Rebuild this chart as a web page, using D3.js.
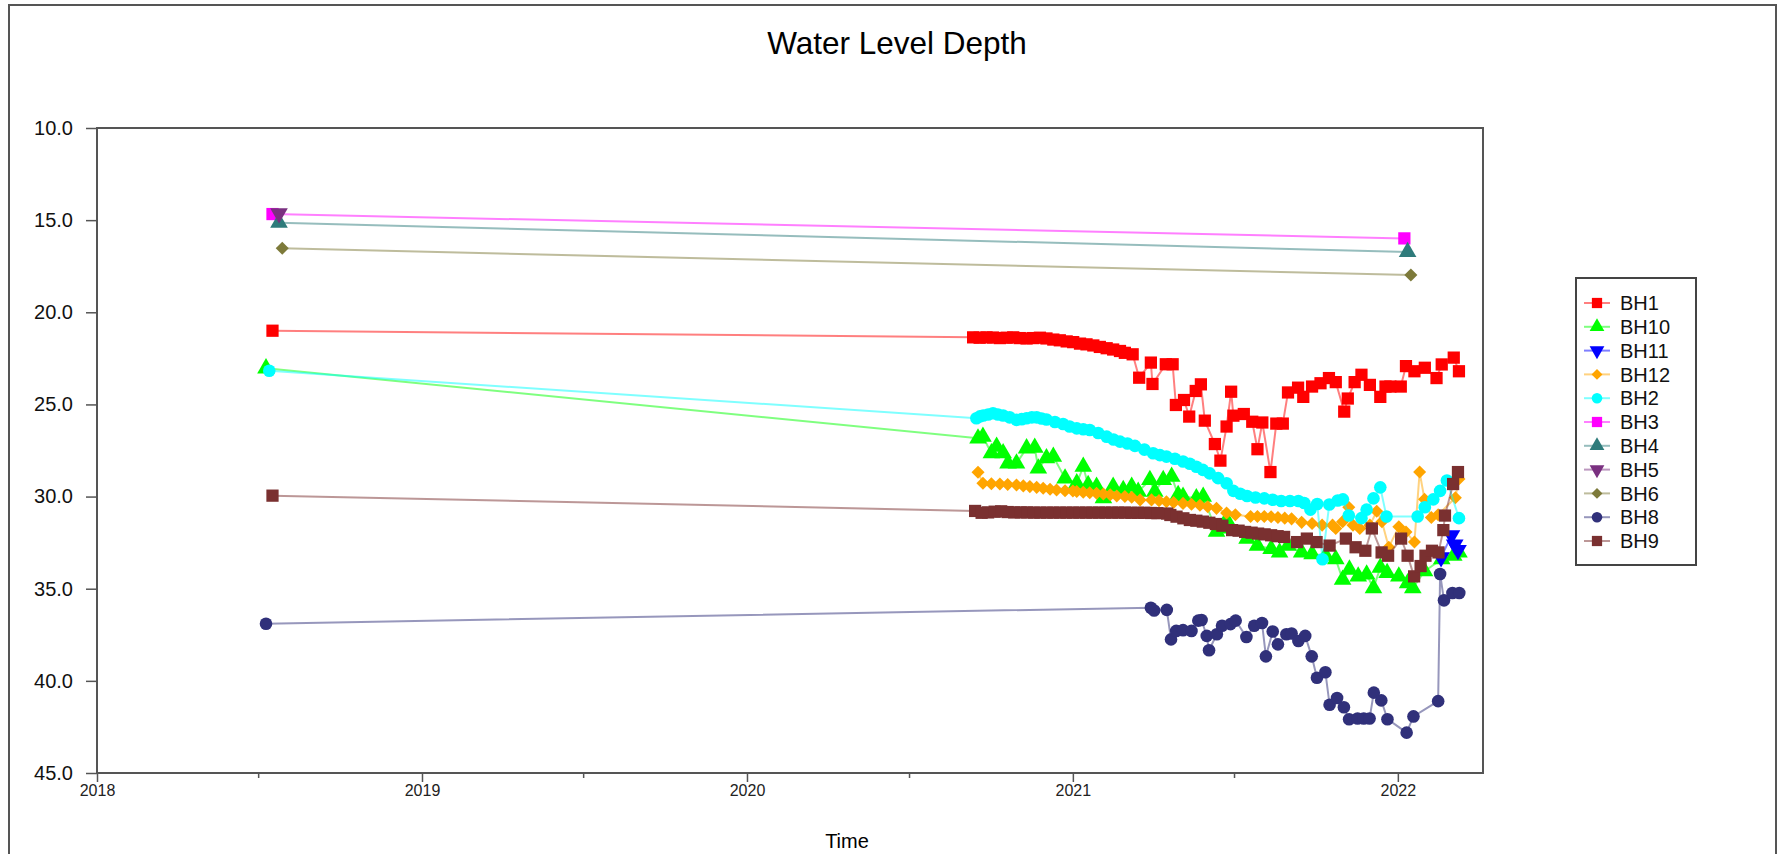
<!DOCTYPE html>
<html>
<head>
<meta charset="utf-8">
<script src="https://cdn.jsdelivr.net/npm/d3@7"></script>
<style>
body { margin: 0; background: #fff; }
svg { display: block; }
text { font-family: "Liberation Sans", Arial, sans-serif; }
</style>
</head>
<body>
<svg id="chart" width="1778" height="854"></svg>
<script>
// readings: [decimal year, depth]
var seriesNames = ["BH1", "BH10", "BH11", "BH12", "BH2", "BH3", "BH4", "BH5", "BH6", "BH8", "BH9"];
var seriesColors = ["#ff0000", "#00ff00", "#0000ff", "#ffa500", "#00ffff", "#ff00ff", "#2e7b7b", "#7a3080", "#7d7a3a", "#30307a", "#7a3030"];
var seriesShapes = ["square", "triangle", "triangleDown", "diamond", "circle", "square", "triangle", "triangleDown", "diamond", "circle", "square"];
var yTicks = [10, 15, 20, 25, 30, 35, 40, 45];

var BH1 = [[2018.54,21.0],
  [2020.694,21.36],[2020.714,21.38],[2020.735,21.36],[2020.755,21.37],[2020.776,21.40],[2020.797,21.38],[2020.817,21.36],
  [2020.837,21.40],[2020.858,21.42],[2020.878,21.40],[2020.899,21.38],[2020.919,21.42],[2020.94,21.48],[2020.96,21.52],
  [2020.981,21.58],[2021.001,21.62],[2021.022,21.70],[2021.042,21.74],[2021.063,21.80],[2021.083,21.88],[2021.104,21.95],
  [2021.124,22.02],[2021.145,22.10],[2021.16,22.20],[2021.184,22.28],[2021.204,23.55],[2021.24,22.73],[2021.245,23.89],
  [2021.286,22.82],[2021.307,22.82],[2021.317,25.03],[2021.342,24.76],[2021.358,25.66],[2021.378,24.27],[2021.394,23.91],
  [2021.406,25.88],[2021.437,27.15],[2021.454,28.05],[2021.473,26.2],[2021.487,24.31],[2021.494,25.61],[2021.526,25.52],
  [2021.552,25.94],[2021.568,27.43],[2021.583,25.98],[2021.608,28.67],[2021.626,26.04],[2021.646,26.04],[2021.662,24.35],
  [2021.693,24.09],[2021.709,24.59],[2021.736,24.03],[2021.762,23.85],[2021.788,23.57],[2021.809,23.79],[2021.835,25.39],
  [2021.846,24.68],[2021.867,23.79],[2021.888,23.39],[2021.914,23.94],[2021.946,24.59],[2021.962,24.03],[2021.977,24.03],
  [2022.009,24.03],[2022.025,22.92],[2022.051,23.2],[2022.083,23.01],[2022.119,23.57],[2022.135,22.83],[2022.172,22.46],
  [2022.188,23.2]];
var BH10 = [[2018.52,23.04],
  [2020.709,26.84],[2020.724,26.75],[2020.75,27.65],[2020.766,27.29],[2020.786,27.65],[2020.801,28.2],[2020.827,28.2],
  [2020.858,27.38],[2020.883,27.35],[2020.894,28.47],[2020.919,27.92],[2020.94,27.83],[2020.976,29.01],[2021.012,29.28],
  [2021.032,28.38],[2021.047,29.37],[2021.073,29.46],[2021.094,30.09],[2021.124,29.46],[2021.155,29.64],[2021.181,29.46],
  [2021.201,29.73],[2021.237,29.1],[2021.252,29.73],[2021.278,29.1],[2021.304,28.92],[2021.324,29.91],[2021.339,30.0],
  [2021.38,30.09],[2021.401,30.0],[2021.442,31.9],[2021.457,31.73],[2021.473,31.27],[2021.536,32.28],[2021.568,32.66],
  [2021.61,32.84],[2021.636,33.03],[2021.662,32.66],[2021.704,33.03],[2021.736,33.12],[2021.778,33.21],[2021.809,33.4],
  [2021.83,34.51],[2021.851,33.96],[2021.878,34.33],[2021.904,34.23],[2021.925,34.97],[2021.946,33.86],[2021.967,34.14],
  [2022.003,34.33],[2022.03,34.7],[2022.046,34.97],[2022.082,34.05],[2022.135,33.4],[2022.172,33.21],[2022.188,33.03]];
var BH11 = [[2022.133,33.3],[2022.165,32.1],[2022.175,32.6],[2022.185,32.9]];
var BH12 = [[2020.709,28.68],[2020.724,29.28],[2020.75,29.3],[2020.776,29.32],[2020.80,29.34],[2020.827,29.37],
  [2020.848,29.42],[2020.868,29.46],[2020.889,29.5],[2020.909,29.55],[2020.93,29.6],[2020.95,29.64],[2020.976,29.68],
  [2021.0,29.7],[2021.012,29.73],[2021.032,29.76],[2021.052,29.79],[2021.073,29.82],[2021.094,29.86],[2021.115,29.9],
  [2021.135,29.97],[2021.16,30.0],[2021.181,30.04],[2021.207,30.18],[2021.242,30.18],[2021.265,30.22],[2021.288,30.28],
  [2021.31,30.32],[2021.339,30.37],[2021.365,30.42],[2021.391,30.47],[2021.415,30.55],[2021.442,30.64],[2021.473,30.89],
  [2021.5,30.99],[2021.547,31.08],[2021.568,31.08],[2021.589,31.08],[2021.61,31.1],[2021.631,31.13],[2021.652,31.17],
  [2021.673,31.21],[2021.704,31.4],[2021.736,31.46],[2021.767,31.55],[2021.799,31.55],[2021.809,31.73],[2021.83,31.36],
  [2021.849,30.58],[2021.862,31.55],[2021.883,31.73],[2021.914,31.55],[2021.935,30.8],[2021.951,31.36],[2021.972,32.75],
  [2022.003,31.64],[2022.025,31.92],[2022.051,32.47],[2022.067,28.67],[2022.082,30.15],[2022.103,31.13],[2022.124,30.99],
  [2022.177,30.06],[2022.188,29.04]];
var BH2 = [[2018.53,23.17],
  [2020.704,25.75],[2020.715,25.65],[2020.725,25.6],[2020.74,25.55],[2020.755,25.48],[2020.77,25.55],[2020.786,25.6],
  [2020.806,25.7],[2020.827,25.84],[2020.843,25.8],[2020.858,25.75],[2020.874,25.7],[2020.889,25.7],[2020.904,25.76],
  [2020.919,25.82],[2020.945,25.95],[2020.97,26.06],[2020.99,26.2],[2021.012,26.3],[2021.032,26.35],[2021.052,26.39],
  [2021.078,26.55],[2021.104,26.75],[2021.125,26.9],[2021.145,27.02],[2021.168,27.12],[2021.191,27.25],[2021.22,27.45],
  [2021.247,27.65],[2021.268,27.75],[2021.288,27.83],[2021.314,27.95],[2021.339,28.1],[2021.36,28.22],[2021.38,28.38],
  [2021.40,28.55],[2021.421,28.74],[2021.447,29.0],[2021.473,29.28],[2021.494,29.69],[2021.515,29.85],[2021.536,29.97],
  [2021.562,30.05],[2021.589,30.1],[2021.615,30.17],[2021.641,30.24],[2021.668,30.24],[2021.694,30.24],[2021.712,30.35],
  [2021.731,30.71],[2021.752,30.4],[2021.768,33.4],[2021.789,30.43],[2021.815,30.21],[2021.831,30.15],[2021.849,31.03],
  [2021.888,31.17],[2021.904,30.71],[2021.925,30.1],[2021.946,29.5],[2021.965,31.08],[2022.061,31.08],[2022.083,30.58],
  [2022.109,30.15],[2022.13,29.69],[2022.151,29.13],[2022.188,31.17]];
var BH3 = [[2018.54,14.67],[2022.02,15.99]];
var BH4 = [[2018.56,15.14],[2022.03,16.73]];
var BH5 = [[2018.56,14.63]];
var BH6 = [[2018.57,16.53],[2022.04,17.98]];
var BH8 = [[2018.52,36.9],
  [2021.24,36.03],[2021.25,36.18],[2021.289,36.15],[2021.302,37.75],[2021.318,37.29],[2021.339,37.25],[2021.365,37.29],
  [2021.386,36.73],[2021.396,36.7],[2021.412,37.56],[2021.419,38.34],[2021.443,37.47],[2021.459,37.01],[2021.485,36.92],
  [2021.501,36.73],[2021.534,37.62],[2021.558,37.01],[2021.582,36.86],[2021.594,38.67],[2021.615,37.32],[2021.631,38.02],
  [2021.657,37.47],[2021.673,37.43],[2021.694,37.84],[2021.715,37.56],[2021.735,38.67],[2021.751,39.83],[2021.777,39.53],
  [2021.79,41.3],[2021.813,40.93],[2021.834,41.43],[2021.85,42.08],[2021.876,42.04],[2021.895,42.04],[2021.913,42.04],
  [2021.926,40.64],[2021.949,41.06],[2021.968,42.08],[2022.027,42.81],[2022.048,41.93],[2022.124,41.1],[2022.13,34.2],
  [2022.142,35.63],[2022.168,35.23],[2022.189,35.23]];
var BH9 = [[2018.54,29.95],
  [2020.70,30.78],[2020.72,30.88],[2020.74,30.86],[2020.76,30.82],[2020.78,30.8],[2020.80,30.84],[2020.82,30.86],
  [2020.84,30.86],[2020.86,30.86],[2020.88,30.87],[2020.90,30.87],[2020.92,30.87],[2020.94,30.87],[2020.96,30.87],
  [2020.98,30.87],[2021.0,30.87],[2021.02,30.87],[2021.04,30.87],[2021.06,30.87],[2021.08,30.87],[2021.10,30.87],
  [2021.12,30.87],[2021.14,30.87],[2021.16,30.87],[2021.18,30.88],[2021.20,30.88],[2021.22,30.88],[2021.24,30.89],
  [2021.26,30.9],[2021.29,30.92],[2021.30,31.0],[2021.319,31.09],[2021.34,31.18],[2021.36,31.27],[2021.38,31.31],
  [2021.40,31.36],[2021.42,31.42],[2021.44,31.49],[2021.46,31.58],[2021.49,31.82],[2021.51,31.85],[2021.53,31.92],
  [2021.55,31.96],[2021.57,32.01],[2021.59,32.05],[2021.61,32.1],[2021.63,32.15],[2021.65,32.19],[2021.69,32.47],
  [2021.72,32.28],[2021.75,32.47],[2021.79,32.66],[2021.84,32.28],[2021.87,32.75],[2021.90,32.94],[2021.92,31.73],
  [2021.95,33.03],[2021.97,33.21],[2022.01,32.28],[2022.03,33.21],[2022.05,34.33],[2022.07,33.77],[2022.085,33.21],
  [2022.105,32.94],[2022.125,33.03],[2022.14,31.82],[2022.145,31.03],[2022.17,29.32],[2022.185,28.67]];

var seriesData = [BH1, BH10, BH11, BH12, BH2, BH3, BH4, BH5, BH6, BH8, BH9];

function toDate(yr) {
    var whole = Math.floor(yr);
    var start = new Date(whole, 0, 1), end = new Date(whole + 1, 0, 1);
    return new Date(+start + (yr - whole) * (end - start));
}

var plotLeft = 97, plotRight = 1483, plotTop = 128, plotBottom = 773;
var svg = d3.select("#chart");

var x = d3.scaleTime().domain([new Date(2018, 0, 1), toDate(2022.262)]).range([plotLeft, plotRight]);
var y = d3.scaleLinear().domain([10, 45]).range([plotTop, plotBottom]);

// outer frame
svg.append("path")
    .attr("d", "M9,860V5H1776V860")
    .attr("fill", "none").attr("stroke", "#555").attr("stroke-width", 2);

svg.append("text")
    .attr("x", 897).attr("y", 54)
    .attr("text-anchor", "middle")
    .attr("font-size", 31.5).attr("fill", "#000")
    .text("Water Level Depth");

svg.append("text")
    .attr("x", 847).attr("y", 848)
    .attr("text-anchor", "middle")
    .attr("font-size", 20).attr("fill", "#000")
    .text("Time");

// axes
var yAxis = svg.append("g")
    .attr("transform", "translate(" + plotLeft + ",0)")
    .call(d3.axisLeft(y).tickValues(yTicks).tickFormat(d3.format(".1f")).tickSize(11).tickSizeOuter(0).tickPadding(13));
yAxis.selectAll("text").attr("font-size", 20).attr("fill", "#111").style("font-family", "'Liberation Sans', Arial, sans-serif");
yAxis.selectAll("line").attr("stroke", "#555").attr("stroke-width", 1.5);
yAxis.select(".domain").remove();

var minorTicks = d3.timeMonth.range(new Date(2018, 6, 1), toDate(2022.262), 12);
svg.append("g")
    .attr("transform", "translate(0," + plotBottom + ")")
    .call(d3.axisBottom(x).tickValues(minorTicks).tickFormat("").tickSize(5).tickSizeOuter(0))
    .call(function(g) {
        g.select(".domain").remove();
        g.selectAll("line").attr("stroke", "#555").attr("stroke-width", 1.5);
    });

var xAxis = svg.append("g")
    .attr("transform", "translate(0," + plotBottom + ")")
    .call(d3.axisBottom(x).ticks(d3.timeYear.every(1)).tickFormat(d3.timeFormat("%Y")).tickSize(9).tickSizeOuter(0).tickPadding(3));
xAxis.selectAll("text").attr("font-size", 16).attr("fill", "#222").style("font-family", "'Liberation Sans', Arial, sans-serif");
xAxis.selectAll("line").attr("stroke", "#555").attr("stroke-width", 1.5);
xAxis.select(".domain").remove();

// plot frame
svg.append("rect")
    .attr("x", plotLeft).attr("y", plotTop)
    .attr("width", plotRight - plotLeft).attr("height", plotBottom - plotTop)
    .attr("fill", "none").attr("stroke", "#555").attr("stroke-width", 2);

function markerPath(shape, scale) {
    var s = scale || 1;
    if (shape === "square") return d3.symbol().type(d3.symbolSquare).size(150 * s)();
    if (shape === "circle") return d3.symbol().type(d3.symbolCircle).size(125 * s)();
    if (shape === "diamond") return d3.symbol().type(d3.symbolSquare).size(85 * s)();
    return d3.symbol().type(d3.symbolTriangle).size(135 * s)();
}
function markerRotate(shape) {
    if (shape === "diamond") return 45;
    if (shape === "triangleDown") return 180;
    return 0;
}

var line = d3.line()
    .x(function(d) { return x(toDate(d[0])); })
    .y(function(d) { return y(d[1]); });

seriesNames.forEach(function(name, i) {
    var g = svg.append("g").attr("class", "series " + name);
    g.append("path")
        .datum(seriesData[i])
        .attr("d", line)
        .attr("fill", "none")
        .attr("stroke", seriesColors[i])
        .attr("stroke-opacity", 0.5)
        .attr("stroke-width", 2);
    g.selectAll("path.mark")
        .data(seriesData[i])
        .enter()
        .append("path")
        .attr("class", "mark")
        .attr("d", markerPath(seriesShapes[i]))
        .attr("transform", function(d) {
            return "translate(" + x(toDate(d[0])) + "," + y(d[1]) + ") rotate(" + markerRotate(seriesShapes[i]) + ")";
        })
        .attr("fill", seriesColors[i]);
});

// legend
var legend = svg.append("g");
legend.append("rect")
    .attr("x", 1576).attr("y", 278).attr("width", 120).attr("height", 287)
    .attr("fill", "#fff").attr("stroke", "#444").attr("stroke-width", 2);

var rows = legend.selectAll("g.row")
    .data(seriesNames)
    .enter()
    .append("g")
    .attr("class", "row")
    .attr("transform", function(d, i) { return "translate(0," + (303 + i * 23.8) + ")"; });

rows.append("line")
    .attr("x1", 1584).attr("x2", 1610)
    .attr("stroke", function(d, i) { return seriesColors[i]; })
    .attr("stroke-opacity", 0.5)
    .attr("stroke-width", 2);
rows.append("path")
    .attr("d", function(d, i) { return markerPath(seriesShapes[i], 0.7); })
    .attr("transform", function(d, i) { return "translate(1597,0) rotate(" + markerRotate(seriesShapes[i]) + ")"; })
    .attr("fill", function(d, i) { return seriesColors[i]; });
rows.append("text")
    .attr("x", 1620).attr("dy", "0.36em")
    .attr("font-size", 20).attr("fill", "#111")
    .text(function(d) { return d; });
</script>
</body>
</html>
